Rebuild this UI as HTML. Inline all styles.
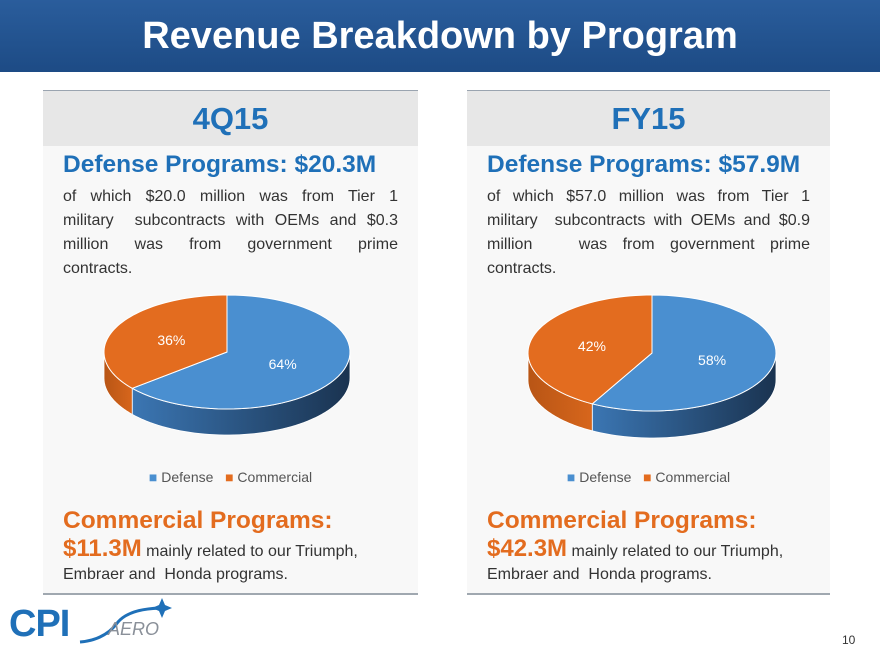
<!DOCTYPE html>
<html><head><meta charset="utf-8"><style>
body{margin:0;width:880px;height:660px;background:#fff;font-family:"Liberation Sans",sans-serif;position:relative;overflow:hidden}
.hdr{position:absolute;left:0;top:0;width:880px;height:72px;background:linear-gradient(#2a5d9c,#1d4b85);color:#fff;font-weight:bold;font-size:38px;text-align:center;line-height:72px}
.panel{position:absolute;top:90px;height:502px;background:#f8f8f8;border-top:1px solid #9aa4b0;border-bottom:2px solid #a0a8b0}
.ph{height:55px;background:#e7e7e7;color:#1f70b8;font-weight:bold;font-size:31px;text-align:center;line-height:55px}
.dp{position:absolute;left:20px;top:60px;color:#1f70b8;font-weight:bold;font-size:24.5px}
.body{position:absolute;left:20px;right:20px;top:94px;font-size:16px;line-height:24px;color:#333}
.body div{text-align:justify;text-align-last:justify;white-space:nowrap;height:24px}
.body div.l{text-align-last:left}
.leg{position:absolute;top:378px;width:100%;text-align:center;font-size:14px;color:#555}
.cp{position:absolute;left:20px;top:414px;color:#e36c1f;font-weight:bold;font-size:24.5px;line-height:31px}
.cp2{position:absolute;left:20px;top:446px;color:#333;font-size:16px;line-height:23px}
.cp2 b{color:#e36c1f;font-size:24px}
svg.pie{position:absolute;left:0;top:0}
</style></head><body>
<div class="hdr">Revenue Breakdown by Program</div>

<div class="panel" style="left:43px;width:375px">
<div class="ph">4Q15</div>
<div class="dp">Defense Programs: $20.3M</div>
<div class="body"><div>of which $20.0 million was from Tier 1</div><div>military &nbsp;subcontracts with OEMs and $0.3</div><div>million was from government prime</div><div class="l">contracts.</div></div>
<svg class="pie" id="pie1" width="375" height="380"></svg>
<div class="leg"><span style="color:#4a8fd0">■</span> Defense &nbsp;&nbsp;<span style="color:#e36c1f">■</span> Commercial</div>
<div class="cp">Commercial Programs:</div>
<div class="cp2"><b>$11.3M</b> mainly related to our Triumph,<br>Embraer and &nbsp;Honda programs.</div>
</div>

<div class="panel" style="left:467px;width:363px">
<div class="ph">FY15</div>
<div class="dp">Defense Programs: $57.9M</div>
<div class="body"><div>of which $57.0 million was from Tier 1</div><div>military &nbsp;subcontracts with OEMs and $0.9</div><div>million &nbsp;&nbsp;was from government prime</div><div class="l">contracts.</div></div>
<svg class="pie" id="pie2" width="363" height="380"></svg>
<div class="leg"><span style="color:#4a8fd0">■</span> Defense &nbsp;&nbsp;<span style="color:#e36c1f">■</span> Commercial</div>
<div class="cp">Commercial Programs:</div>
<div class="cp2"><b>$42.3M</b> mainly related to our Triumph,<br>Embraer and &nbsp;Honda programs.</div>
</div>

<svg style="position:absolute;left:0;top:592px" width="200" height="60">
<text x="9" y="44" font-family="Liberation Sans" font-weight="bold" font-size="38" fill="#1f70b8" letter-spacing="-1">CPI</text>
<path d="M80 50 Q105 48 118 30 Q130 16 165 16" stroke="#1f70b8" stroke-width="3" fill="none"/>
<path d="M162 6 L165 13 L172 16 L165 19 L162 26 L159 19 L152 16 L159 13Z" fill="#1f70b8"/>
<text x="108" y="43" font-family="Liberation Sans" font-style="italic" font-size="18" fill="#8a9099">AERO</text>
</svg>
<div style="position:absolute;left:842px;top:633px;font-size:12px;color:#333">10</div>

<script>
const categories=["Defense","Commercial"];
const pie1Values=[64,36];
const pie2Values=[58,42];
function drawPie(id,vals,cx,cy,rx,ry,d){
  const svg=document.getElementById(id);const NS="http://www.w3.org/2000/svg";
  const tot=vals.reduce((a,b)=>a+b,0);const split=vals[0]/tot*360;
  const P=(t,dy)=>{const r=t*Math.PI/180;return [cx+rx*Math.sin(r),cy-ry*Math.cos(r)+(dy||0)];};
  const arc=(a,b,dy)=>{let s=[];const n=60;for(let i=0;i<=n;i++){s.push(P(a+(b-a)*i/n,dy));}return s;};
  const defs=document.createElementNS(NS,"defs");
  defs.innerHTML='<linearGradient id="'+id+'gb"><stop offset="0" stop-color="#3b76b3"/><stop offset="1" stop-color="#1a3350"/></linearGradient><linearGradient id="'+id+'go"><stop offset="0" stop-color="#b85515"/><stop offset="1" stop-color="#d7661c"/></linearGradient>';
  svg.appendChild(defs);
  function side(a,b,fill,name){
    if(b<=a)return;
    const top=arc(a,b,0),bot=arc(b,a,d);
    const p=document.createElementNS(NS,"path");
    p.setAttribute("d","M"+top.concat(bot).map(q=>q.join(",")).join(" L")+"Z");
    p.setAttribute("fill",fill);p.setAttribute("stroke","#fff");p.setAttribute("stroke-width","0.8");
    
    
    svg.appendChild(p);
  }
  side(90,Math.min(split,270),"url(#"+id+"gb)","side-defense");
  side(Math.max(split,90),270,"url(#"+id+"go)","side-commercial");
  const slices=[[0,split,"#4a8fd0","slice-defense"],[split,360,"#e36c1f","slice-commercial"]];
  slices.forEach((s,i)=>{
    const pts=arc(s[0],s[1],0);
    const p=document.createElementNS(NS,"path");
    p.setAttribute("d","M"+cx+","+cy+" L"+pts.map(q=>q.join(",")).join(" L")+"Z");
    p.setAttribute("fill",s[2]);p.setAttribute("stroke","#fff");p.setAttribute("stroke-width","1");
    
    
    svg.appendChild(p);
    const mid=(s[0]+s[1])/2;const l=P(mid);
    const t=document.createElementNS(NS,"text");
    t.setAttribute("x",cx+(l[0]-cx)*0.5);t.setAttribute("y",cy+(l[1]-cy)*0.5+5);
    t.setAttribute("fill","#fff");t.setAttribute("font-size","14");t.setAttribute("text-anchor","middle");
    t.setAttribute("font-family","Liberation Sans");
    t.textContent=Math.round(vals[i]/tot*100)+"%";
    
    
    svg.appendChild(t);
  });
}
drawPie("pie1",pie1Values,184,261,123,57,26);
drawPie("pie2",pie2Values,185,262,124,58,27);
</script>
</body></html>
